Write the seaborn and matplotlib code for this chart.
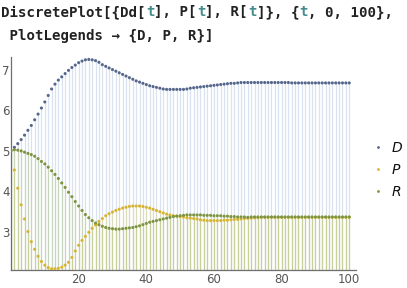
import matplotlib
matplotlib.use("Agg")
import matplotlib.pyplot as plt
from matplotlib.lines import Line2D
from matplotlib.ticker import MultipleLocator, FixedLocator
import seaborn as sns
import pandas as pd

# ---- data ----
t_vals = list(range(0, 101))

D_vals = [5.0, 5.08, 5.17, 5.27, 5.38, 5.5, 5.62, 5.76, 5.9, 6.05,
          6.2, 6.36, 6.52, 6.64, 6.74, 6.82, 6.9, 6.98, 7.05, 7.11,
          7.17, 7.21, 7.24, 7.25, 7.24, 7.22, 7.18, 7.12, 7.08, 7.04,
          7.0, 6.96, 6.92, 6.88, 6.84, 6.8, 6.76, 6.72, 6.69, 6.66,
          6.63, 6.6, 6.58, 6.56, 6.54, 6.52, 6.51, 6.51, 6.51, 6.51,
          6.51, 6.51, 6.52, 6.54, 6.55, 6.56, 6.57, 6.58, 6.59, 6.6,
          6.61, 6.62, 6.63, 6.64, 6.65, 6.66, 6.66, 6.67, 6.68, 6.68,
          6.68, 6.68, 6.68, 6.68, 6.68, 6.68, 6.68, 6.68, 6.68, 6.68,
          6.68, 6.68, 6.68, 6.67, 6.67, 6.67, 6.67, 6.67, 6.67, 6.67,
          6.67, 6.67, 6.67, 6.67, 6.67, 6.67, 6.67, 6.67, 6.67, 6.67,
          6.67]

P_vals = [5.0, 4.52, 4.07, 3.66, 3.31, 3.0, 2.75, 2.56, 2.39, 2.26,
          2.17, 2.11, 2.08, 2.08, 2.09, 2.12, 2.17, 2.24, 2.36, 2.52,
          2.66, 2.78, 2.88, 2.98, 3.08, 3.16, 3.25, 3.32, 3.39, 3.44,
          3.48, 3.52, 3.55, 3.58, 3.6, 3.62, 3.63, 3.63, 3.63, 3.62,
          3.6, 3.58, 3.55, 3.52, 3.49, 3.46, 3.43, 3.41, 3.39, 3.38,
          3.37, 3.36, 3.34, 3.33, 3.32, 3.31, 3.29, 3.28, 3.27, 3.27,
          3.27, 3.27, 3.27, 3.28, 3.28, 3.29, 3.3, 3.3, 3.31, 3.32,
          3.33, 3.33, 3.34, 3.34, 3.35, 3.35, 3.35, 3.35, 3.35, 3.35,
          3.35, 3.35, 3.35, 3.35, 3.35, 3.35, 3.35, 3.35, 3.35, 3.35,
          3.35, 3.35, 3.35, 3.35, 3.35, 3.35, 3.35, 3.35, 3.35, 3.35,
          3.35]

R_vals = [5.0, 5.02, 5.01, 4.99, 4.96, 4.93, 4.9, 4.86, 4.8, 4.73,
          4.67, 4.59, 4.5, 4.41, 4.31, 4.2, 4.09, 3.97, 3.86, 3.74,
          3.63, 3.52, 3.42, 3.34, 3.27, 3.21, 3.17, 3.13, 3.1, 3.08,
          3.07, 3.06, 3.06, 3.07, 3.08, 3.09, 3.1, 3.12, 3.14, 3.17,
          3.2, 3.23, 3.25, 3.27, 3.29, 3.31, 3.33, 3.35, 3.37, 3.38,
          3.39, 3.4, 3.41, 3.41, 3.41, 3.41, 3.41, 3.4, 3.4, 3.4,
          3.39, 3.39, 3.39, 3.38, 3.38, 3.37, 3.37, 3.36, 3.36, 3.36,
          3.35, 3.36, 3.36, 3.36, 3.36, 3.36, 3.36, 3.36, 3.36, 3.36,
          3.36, 3.36, 3.36, 3.36, 3.36, 3.36, 3.36, 3.36, 3.36, 3.36,
          3.36, 3.36, 3.36, 3.36, 3.36, 3.36, 3.36, 3.36, 3.36, 3.36,
          3.36]

series_names = ["D", "P", "R"]
x_tick_vals = [20, 40, 60, 80, 100]
y_tick_vals = [3, 4, 5, 6, 7]

# ---- styling ----
colors = {"D": "#56678c", "P": "#d6b534", "R": "#7d9440"}
stem_colors = {"D": "#6f8fc0", "P": "#e1c82a", "R": "#8fb032"}
Y_AXIS = 2.05

sns.set_style("white")
plt.rcParams["font.family"] = ["DejaVu Sans"]

fig = plt.figure(figsize=(4.07, 2.88), dpi=100)
ax = fig.add_axes([11 / 407, 18 / 288, 345 / 407, 213 / 288])

df = pd.DataFrame({
    "t": t_vals * 3,
    "value": D_vals + P_vals + R_vals,
    "series": ["D"] * len(t_vals) + ["P"] * len(t_vals) + ["R"] * len(t_vals),
})

# fill lines (stems) to the axis
for name, vals in zip(series_names, [D_vals, P_vals, R_vals]):
    ax.vlines(t_vals, Y_AXIS, vals, colors=stem_colors[name], alpha=0.25,
              linewidth=0.9, zorder=1)

sns.scatterplot(data=df, x="t", y="value", hue="series", palette=colors,
                s=5, linewidth=0, legend=False, ax=ax, zorder=3)

ax.set_xlim(0, 102)
ax.set_ylim(Y_AXIS, 7.31)
ax.set_xlabel("")
ax.set_ylabel("")

for side in ["top", "right"]:
    ax.spines[side].set_visible(False)
for side in ["left", "bottom"]:
    ax.spines[side].set_color("#6e6e6e")
    ax.spines[side].set_linewidth(0.9)

ax.xaxis.set_major_locator(FixedLocator(x_tick_vals))
ax.xaxis.set_minor_locator(MultipleLocator(5))
ax.yaxis.set_major_locator(FixedLocator(y_tick_vals))
ax.yaxis.set_minor_locator(MultipleLocator(0.2))
ax.tick_params(which="both", direction="in", color="#6e6e6e", width=0.7,
               labelcolor="#555555", labelsize=8.5)
ax.tick_params(which="major", length=4, pad=2)
ax.tick_params(which="minor", length=2.3)
ax.tick_params(axis="y", which="major", pad=1)
ax.set_xticklabels([str(v) for v in x_tick_vals])
ax.set_yticklabels([str(v) for v in y_tick_vals])

# legend
handles = [Line2D([], [], marker="o", ls="", ms=2.0, color=colors[n],
                  markeredgewidth=0) for n in series_names]
leg = ax.legend(handles, series_names, loc="center left",
                bbox_to_anchor=(371 / 407, 1 - 170 / 288),
                bbox_transform=fig.transFigure, frameon=False,
                handlelength=1.0, handletextpad=0.5, borderpad=0,
                borderaxespad=0, labelspacing=0.6,
                prop={"style": "italic", "size": 10})
for txt in leg.get_texts():
    txt.set_color("#111111")

# input-cell text
dark = "#222222"
teal = "#468c8c"
adv = 8.52 / 407
mono = {"family": "DejaVu Sans Mono", "weight": "bold", "size": 10.2}


def draw_line(parts, x0, y):
    x = x0
    for text, col in parts:
        fig.text(x, y, text, color=col, va="baseline", ha="left", **mono)
        x += len(text) * adv


line1 = [("DiscretePlot[{Dd[", dark), ("t", teal), ("], P[", dark),
         ("t", teal), ("], R[", dark), ("t", teal), ("]}, {", dark),
         ("t", teal), (", 0, 100},", dark)]
line2 = [(" PlotLegends \u2192 {D, P, R}]", dark)]
draw_line(line1, 1 / 407, 1 - 16 / 288)
draw_line(line2, 1 / 407, 1 - 40 / 288)

fig.savefig("out.png", dpi=100)
